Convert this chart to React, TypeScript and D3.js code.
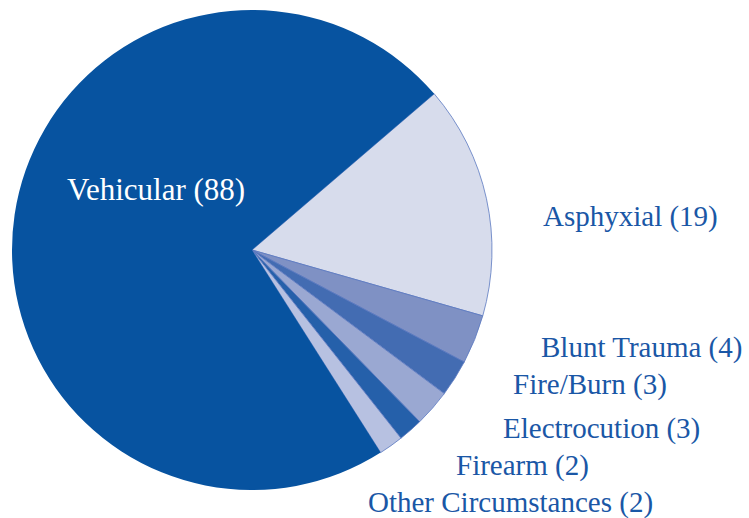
import * as d3 from "d3";

const categories = ["Asphyxial", "Blunt Trauma", "Fire/Burn", "Electrocution", "Firearm", "Other Circumstances", "Vehicular"];
const counts = [19, 4, 3, 3, 2, 2, 88];
const sliceColors = ["#d7dcec", "#7f91c4", "#436cb2", "#9aa8d2", "#2560aa", "#b7c1e1", "#0753a0"];

// label anchor positions (start x, baseline y)
const labelPos: [number, number][] = [
  [543, 226],
  [541, 357],
  [513, 394],
  [503, 438],
  [456, 475],
  [368, 512],
  [67, 200],
];

const cx = 252;
const cy = 250;
const radius = 240;
// Asphyxial's leading edge sits ~49.4° clockwise from 12 o'clock
const start = (49.4 * Math.PI) / 180;

export default function App() {
  const pie = d3.pie<number>().sort(null).value((d) => d)
    .startAngle(start).endAngle(start + 2 * Math.PI);
  const arc = d3.arc<d3.PieArcDatum<number>>().innerRadius(0).outerRadius(radius);
  const slices = pie(counts);
  const last = counts.length - 1;

  return (
    <svg
      width={749}
      height={518}
      fontFamily="Liberation Serif, Times New Roman, serif"
      style={{ position: "absolute", left: 0, top: 0, background: "#fff" }}
    >
      <g transform={`translate(${cx},${cy})`}>
        {slices.map((s, i) => (
          <path
            key={categories[i]}
            d={arc(s) ?? ""}
            fill={sliceColors[i]}
            stroke={i === last ? "none" : "#5a78c0"}
            strokeWidth={0.8}
          />
        ))}
      </g>
      {categories.map((c, i) => (
        <text
          key={c}
          x={labelPos[i][0]}
          y={labelPos[i][1]}
          fontSize={i === last ? 31 : 29}
          fill={i === last ? "#ffffff" : "#1a57a6"}
        >
          {`${c} (${counts[i]})`}
        </text>
      ))}
    </svg>
  );
}
